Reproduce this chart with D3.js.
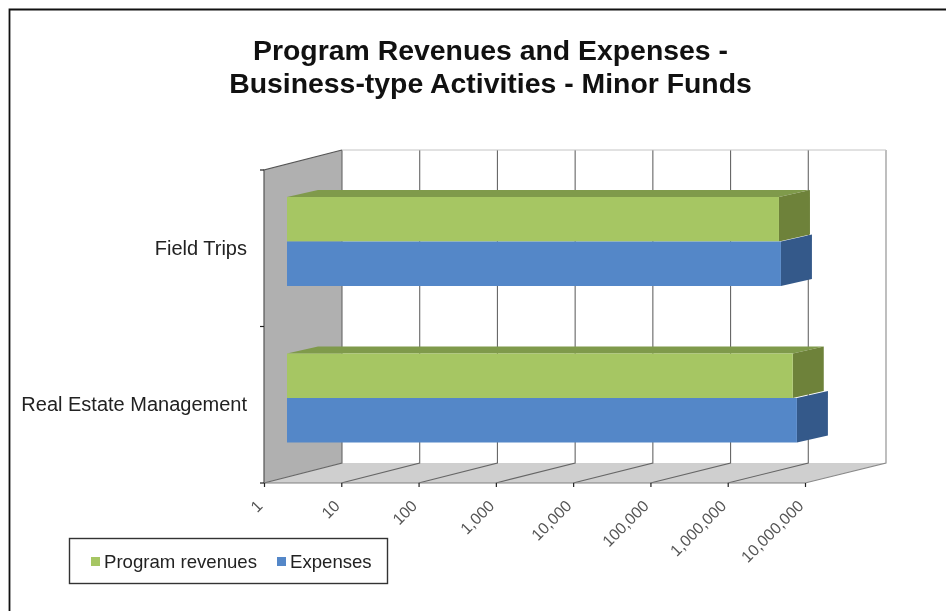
<!DOCTYPE html>
<html>
<head>
<meta charset="utf-8">
<script src="https://d3js.org/d3.v7.min.js"></script>
<style>
html, body { margin: 0; padding: 0; background: #fff; overflow: hidden; }
text { font-family: "Liberation Sans", Arial, sans-serif; }
svg { filter: blur(0.45px); }
</style>
</head>
<body>
<div id="chart"></div>
<script>
var titleLines = ["Program Revenues and Expenses -", "Business-type Activities - Minor Funds"];
var categories = ["Field Trips", "Real Estate Management"];
var seriesNames = ["Program revenues", "Expenses"];
var programRevenues = [2320000, 3500000];
var expenses = [2460000, 3960000];
var tickValues = [1, 10, 100, 1000, 10000, 100000, 1000000, 10000000];

var width = 946, height = 611;
var colors = ["#a6c663", "#5487c8"];
var topColors = ["#7f9a4b", "#41699b"];
var sideColors = ["#6e823a", "#34598a"];

// 3d box offsets: wall height shift, and where the bars sit inside it
var depthY = -20;
var barInX = 23, barInY = -6;
var barDepthX = 31, barDepthY = -7;

var svg = d3.select("#chart").append("svg")
  .attr("width", width)
  .attr("height", height);

// page frame only shows on the left and top
svg.append("path")
  .attr("d", "M9.5," + height + "V9.5H" + width)
  .style("fill", "none")
  .style("stroke", "#111")
  .style("stroke-width", 1.8);

var x = d3.scaleLog().domain([1, 10000000]).range([264, 805]);
var xBack = d3.scaleLog().domain([1, 10000000]).range([342, 886]);
var y = d3.scaleBand().domain(categories).range([170, 483]);
var inner = d3.scaleBand().domain(seriesNames).range([33, 122]);

svg.selectAll(".title")
  .data(titleLines)
  .enter().append("text")
  .attr("class", "title")
  .attr("x", 490.5)
  .attr("y", function(d, i) { return 60 + i * 33; })
  .attr("text-anchor", "middle")
  .style("font-size", "28.4px")
  .style("font-weight", "bold")
  .style("fill", "#111")
  .text(function(d) { return d; });

//--------------- WALLS --------------------
var x0 = x(1), xEnd = x(10000000), yTop = y.range()[0], yBottom = y.range()[1];
var bx0 = xBack(1), bxEnd = xBack(10000000);

svg.append("polygon")
  .attr("points", [[x0, yTop], [bx0, yTop + depthY], [bx0, yBottom + depthY], [x0, yBottom]].join(" "))
  .style("fill", "#b0b0b0");
svg.append("polygon")
  .attr("points", [[x0, yBottom], [bx0, yBottom + depthY], [bxEnd, yBottom + depthY], [xEnd, yBottom]].join(" "))
  .style("fill", "#cfcfcf");

// gridlines on back wall and floor
svg.selectAll(".grid")
  .data(tickValues)
  .enter().append("path")
  .attr("class", "grid")
  .attr("d", function(d) {
    return "M" + x(d) + "," + yBottom + "L" + xBack(d) + "," + (yBottom + depthY) + "V" + (yTop + depthY);
  })
  .style("fill", "none")
  .style("stroke", function(d, i) { return i == tickValues.length - 1 ? "#8a8a8a" : "#666"; })
  .style("stroke-width", 1.1);

svg.append("line")
  .attr("x1", bx0).attr("x2", bxEnd)
  .attr("y1", yTop + depthY).attr("y2", yTop + depthY)
  .style("stroke", "#c4c4c4");

// wall edges
svg.append("path")
  .attr("d", "M" + bx0 + "," + (yTop + depthY) + "L" + x0 + "," + yTop + "V" + yBottom)
  .style("fill", "none")
  .style("stroke", "#555")
  .style("stroke-width", 1.2);
svg.append("line")
  .attr("x1", x0).attr("x2", xEnd)
  .attr("y1", yBottom).attr("y2", yBottom)
  .style("stroke", "#808080")
  .style("stroke-width", 1.2);

//--------------- BARS --------------------
var rows = [];
categories.forEach(function(c, i) {
  rows.push({cat: c, s: 0, value: programRevenues[i]});
  rows.push({cat: c, s: 1, value: expenses[i]});
});

var bars = svg.selectAll(".bar")
  .data(rows)
  .enter().append("g")
  .attr("class", "bar");

function barTop(d) { return y(d.cat) + barInY + inner(seriesNames[d.s]); }
function barRight(d) { return x(d.value) + barInX; }

bars.filter(function(d) { return d.s == 0; }).append("polygon")
  .attr("points", function(d) {
    var l = x(1) + barInX, r = barRight(d), t = barTop(d);
    return [[l, t], [l + barDepthX, t + barDepthY], [r + barDepthX, t + barDepthY], [r, t]].join(" ");
  })
  .style("fill", topColors[0]);

bars.append("polygon")
  .attr("points", function(d) {
    var r = barRight(d), t = barTop(d), b = t + inner.bandwidth();
    return [[r, t], [r + barDepthX, t + barDepthY], [r + barDepthX, b + barDepthY], [r, b]].join(" ");
  })
  .style("fill", function(d) { return sideColors[d.s]; });

bars.append("rect")
  .attr("x", x(1) + barInX)
  .attr("y", barTop)
  .attr("width", function(d) { return barRight(d) - x(1) - barInX; })
  .attr("height", inner.bandwidth())
  .style("fill", function(d) { return colors[d.s]; });

//--------------- AXES --------------------
var xAxis = d3.axisBottom(x)
  .tickValues(tickValues)
  .tickSize(4)
  .tickFormat(d3.format(","));
var gx = svg.append("g")
  .attr("transform", "translate(0," + yBottom + ")")
  .call(xAxis);
gx.select(".domain").remove();
gx.selectAll("line").style("stroke", "#222").style("stroke-width", 1.2);
gx.selectAll("text")
  .attr("transform", "translate(-5,20) rotate(-45)")
  .attr("x", 0).attr("y", 0).attr("dy", "0.35em")
  .style("text-anchor", "end")
  .style("font-size", "16px")
  .style("fill", "#555");

var yAxis = d3.axisLeft(y).tickSize(0).tickPadding(17);
var gy = svg.append("g")
  .attr("transform", "translate(" + x0 + ",0)")
  .call(yAxis);
gy.select(".domain").remove();
gy.selectAll("text")
  .style("font-size", "20px")
  .style("fill", "#222");

// ticks between the categories
svg.selectAll(".ytick")
  .data([yTop, y(categories[1]), yBottom])
  .enter().append("line")
  .attr("class", "ytick")
  .attr("x1", x0 - 4).attr("x2", x0)
  .attr("y1", function(d) { return d; })
  .attr("y2", function(d) { return d; })
  .style("stroke", "#222")
  .style("stroke-width", 1.2);

//--------------- LEGEND --------------------
var legend = svg.append("g");
legend.append("rect")
  .attr("x", 69.5).attr("y", 538.5)
  .attr("width", 318).attr("height", 45)
  .style("fill", "#fff")
  .style("stroke", "#333")
  .style("stroke-width", 1.4);

var legendX = [91, 277];
var item = legend.selectAll(".item")
  .data(seriesNames)
  .enter().append("g")
  .attr("class", "item")
  .attr("transform", function(d, i) { return "translate(" + legendX[i] + ",557)"; });
item.append("rect")
  .attr("width", 9).attr("height", 9)
  .style("fill", function(d, i) { return colors[i]; });
item.append("text")
  .attr("x", 13).attr("y", 10.5)
  .style("font-size", "18.6px")
  .style("fill", "#222")
  .text(function(d) { return d; });
</script>
</body>
</html>
